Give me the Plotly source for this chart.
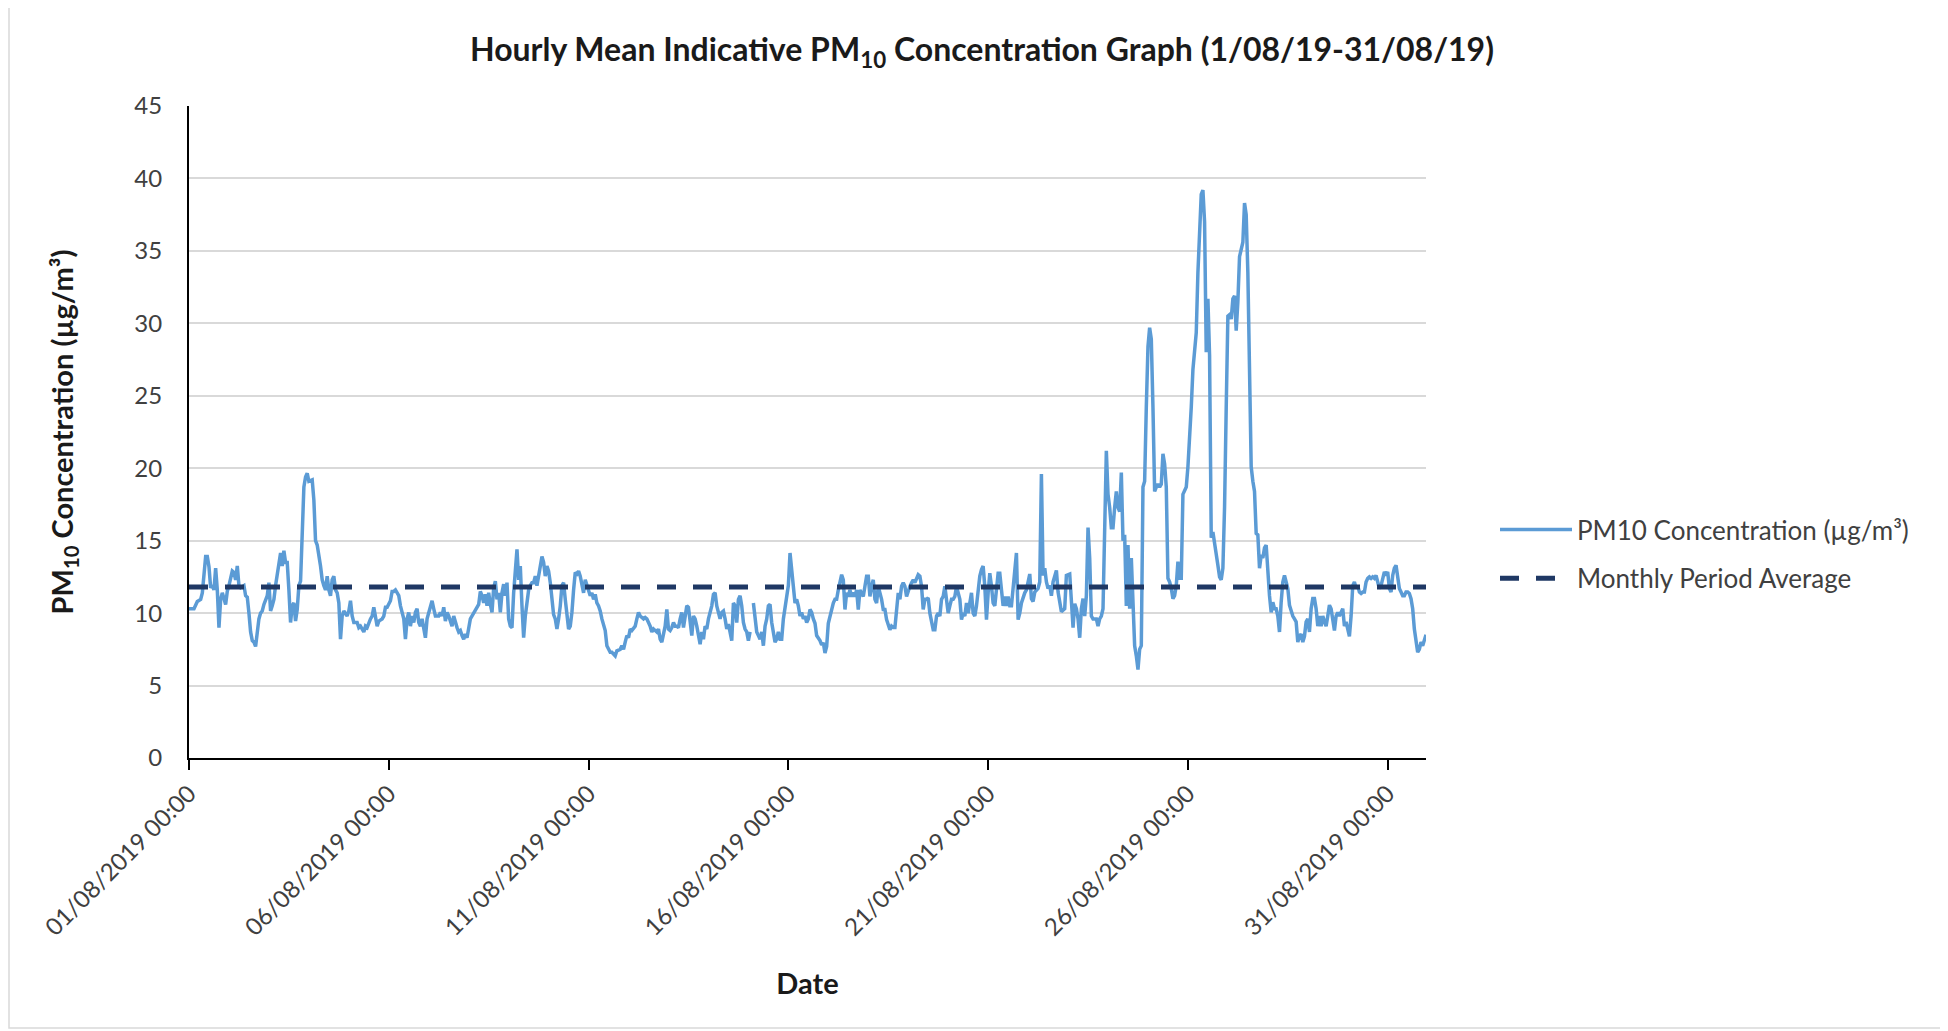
import pandas as pd
import plotly.graph_objects as go

# ---------------- data ----------------
START = "2019-08-01 00:00"
END = "2019-08-31 23:00"

hours = [
    0, 3, 5, 7, 8, 9, 10, 11, 12, 13, 14, 15, 16, 17, 18, 19, 20, 22, 23, 24,
    26, 27, 28, 29, 30, 31, 33, 34, 35, 36, 37, 38, 39, 40, 41, 42, 43, 44, 45, 46,
    47, 48, 49, 50, 51, 52, 53, 54, 55, 56, 57, 58, 59, 60, 61, 62, 63, 64, 65, 66,
    67, 69, 70, 71, 72, 74, 75, 76, 77, 79, 80, 81, 82, 83, 84, 85, 86, 87, 88, 89,
    90, 91, 92, 93, 95, 96, 97, 98, 99, 101, 102, 103, 105, 106, 107, 109, 110, 111, 112, 113,
    114, 116, 117, 118, 119, 121, 122, 123, 124, 126, 127, 129, 130, 131, 132, 133, 134, 135, 136, 137,
    138, 139, 140, 141, 142, 143, 144, 145, 146, 147, 148, 150, 151, 152, 153, 154, 155, 156, 157, 158,
    159, 160, 161, 162, 163, 164, 165, 166, 167, 169, 170, 171, 173, 174, 175, 176, 177, 178, 179, 180,
    181, 182, 183, 184, 185, 186, 187, 188, 189, 190, 191, 192, 193, 194, 195, 196, 197, 198, 199, 200,
    201, 202, 203, 204, 205, 206, 207, 208, 209, 210, 211, 212, 213, 214, 215, 216, 217, 218, 219, 220,
    221, 222, 223, 224, 225, 226, 227, 228, 229, 230, 231, 232, 233, 234, 235, 236, 237, 238, 239, 240,
    241, 242, 243, 244, 245, 246, 247, 248, 249, 250, 251, 252, 253, 254, 256, 257, 259, 260, 261, 262,
    263, 264, 265, 266, 267, 268, 269, 270, 271, 272, 273, 274, 275, 276, 277, 278, 279, 280, 281, 282,
    283, 284, 285, 286, 287, 288, 289, 290, 291, 292, 293, 294, 295, 296, 297, 298, 299, 300, 301, 302,
    303, 304, 305, 306, 307, 308, 309, 310, 311, 312, 313, 314, 315, 316, 317, 318, 319, 320, 321, 322,
    323, 324, 325, 326, 327, 328, 329, 330, 331, 332, 333, 334, 335, 336, 337, 338, 339, 340, 341, 342,
    343, 344, 345, 346, 347, 348, 349, 350, 351, 352, 353, 354, 355, 356, 357, 358, 359, 360, 361, 362,
    363, 364, 365, 366, 367, 368, 369, 370, 371, 372, 373, 374, 375, 376, 377, 378, 379, 380, 381, 382,
    383, 384, 385, 386, 387, 388, 389, 390, 391, 392, 393, 394, 395, 396, 397, 398, 399, 400, 401, 402,
    403, 404, 405, 406, 407, 408, 409, 410, 411, 412, 413, 414, 415, 416, 417, 418, 419, 420, 421, 422,
    423, 424, 425, 426, 427, 428, 429, 430, 431, 432, 433, 434, 435, 436, 437, 438, 439, 440, 441, 442,
    443, 444, 445, 446, 447, 448, 449, 450, 451, 452, 453, 454, 455, 456, 457, 458, 459, 460, 461, 462,
    463, 464, 465, 466, 467, 468, 469, 470, 471, 472, 473, 474, 475, 476, 477, 478, 479, 480, 481, 482,
    483, 484, 485, 486, 487, 488, 489, 490, 491, 492, 493, 494, 495, 496, 497, 498, 499, 500, 501, 502,
    503, 504, 505, 506, 507, 508, 510, 511, 512, 513, 514, 515, 516, 517, 518, 519, 520, 521, 522, 523,
    524, 526, 527, 529, 530, 531, 532, 533, 534, 535, 536, 537, 538, 539, 540, 541, 542, 543, 545, 546,
    547, 548, 549, 550, 551, 552, 553, 554, 555, 556, 557, 558, 559, 560, 561, 562, 563, 564, 565, 566,
    567, 568, 569, 570, 571, 572, 573, 574, 575, 576, 577, 578, 579, 580, 581, 582, 583, 584, 585, 586,
    587, 588, 589, 590, 591, 592, 593, 594, 595, 596, 597, 598, 599, 600, 601, 602, 603, 604, 605, 606,
    607, 608, 609, 610, 611, 612, 613, 614, 615, 616, 617, 618, 619, 620, 621, 622, 623, 624, 625, 626,
    627, 628, 629, 630, 631, 632, 633, 634, 635, 636, 637, 638, 639, 640, 641, 642, 643, 644, 645, 646,
    647, 648, 649, 650, 651, 652, 653, 654, 655, 656, 657, 658, 659, 660, 661, 662, 663, 664, 665, 666,
    667, 668, 669, 670, 671, 672, 673, 674, 675, 676, 677, 678, 679, 680, 681, 682, 683, 684, 685, 686,
    687, 688, 689, 690, 691, 692, 693, 694, 695, 696, 697, 698, 699, 700, 701, 702, 703, 704, 705, 706,
    707, 708, 709, 710, 711, 712, 713, 714, 715, 716, 717, 718, 719, 720, 721, 722, 723, 724, 725, 726,
    727, 728, 729, 730, 731, 732, 733, 734, 735, 736, 737, 738, 739, 740, 741, 742, 743,
]

pm10 = [
    10.3, 10.3, 10.8, 10.95, 11.4, 12.8, 13.9, 13.9, 13.2, 11.75, 11.9, 11.6, 13.1, 11.6, 9.0, 10.95, 11.4, 10.6, 11.5, 11.9,
    12.9, 12.8, 12.3, 13.25, 11.9, 11.75, 11.9, 11.2, 11.1, 10.0, 8.7, 8.1, 8.0, 7.7, 8.7, 9.6, 10.0, 10.15, 10.6, 10.95,
    11.2, 12.1, 10.15, 10.5, 10.95, 11.9, 12.8, 13.25, 14.15, 13.25, 14.3, 13.5, 13.5, 11.6, 9.35, 10.5, 10.7, 9.45, 10.25, 11.9,
    12.2, 18.7, 19.4, 19.65, 19.1, 19.2, 17.8, 15.0, 14.7, 13.25, 12.3, 11.9, 11.6, 12.55, 11.6, 11.2, 12.3, 12.55, 11.6, 11.4,
    10.7, 8.2, 9.8, 10.15, 9.8, 10.15, 10.85, 9.8, 9.35, 9.35, 9.0, 9.1, 8.7, 9.1, 9.0, 9.6, 9.8, 10.4, 9.6, 9.1,
    9.45, 9.6, 9.8, 10.4, 10.4, 10.85, 11.5, 11.5, 11.6, 11.2, 10.5, 9.6, 8.2, 9.6, 10.05, 9.1, 9.8, 9.35, 10.05, 10.3,
    9.35, 9.1, 9.6, 8.8, 8.3, 9.6, 10.05, 10.4, 10.85, 10.3, 9.8, 9.8, 10.05, 9.8, 10.4, 9.45, 10.05, 9.8, 9.35, 9.1,
    9.8, 9.35, 9.0, 8.7, 8.8, 8.45, 8.2, 8.55, 8.3, 9.6, 9.8, 9.9, 10.4, 10.6, 11.5, 11.2, 10.7, 11.3, 10.5, 11.4,
    10.6, 10.05, 11.75, 12.2, 10.95, 11.4, 10.05, 11.4, 12.0, 11.2, 12.1, 9.6, 9.1, 9.0, 11.4, 13.25, 14.4, 12.3, 13.25, 10.5,
    8.3, 9.8, 10.95, 11.6, 11.9, 12.1, 12.1, 12.55, 11.9, 12.55, 13.25, 13.9, 13.5, 12.55, 13.25, 12.9, 12.1, 10.7, 9.9, 9.6,
    8.9, 9.6, 10.5, 11.9, 12.1, 10.95, 9.8, 8.9, 9.1, 10.05, 11.6, 12.8, 12.7, 12.9, 12.55, 11.9, 11.4, 12.3, 11.9, 11.4,
    11.2, 11.4, 10.95, 11.3, 10.7, 10.5, 10.15, 9.6, 9.1, 8.8, 7.75, 7.5, 7.3, 7.3, 7.05, 7.4, 7.5, 7.75, 7.5, 8.0,
    8.45, 8.3, 8.9, 8.8, 9.0, 9.1, 9.6, 10.05, 9.8, 9.7, 9.6, 9.7, 9.6, 9.35, 9.1, 8.7, 8.9, 8.8, 8.7, 8.9,
    8.2, 8.0, 8.7, 9.1, 10.25, 8.9, 8.8, 9.0, 9.35, 9.1, 9.1, 9.0, 9.6, 10.05, 9.0, 9.9, 10.5, 10.4, 9.6, 8.45,
    9.8, 9.6, 9.1, 8.45, 7.85, 8.7, 8.2, 9.1, 8.9, 9.6, 10.05, 10.5, 11.3, 11.4, 10.5, 10.05, 9.6, 10.05, 10.15, 9.6,
    8.9, 9.25, 8.7, 8.1, 10.7, 10.5, 9.35, 10.95, 11.2, 10.5, 9.35, 8.9, 8.7, 8.1, 8.7, None, 10.7, 9.8, 8.7, 8.45,
    8.2, 8.7, 7.75, 9.1, 9.6, 10.5, 10.6, 9.35, 8.45, 8.0, 8.2, 8.7, 8.2, 8.2, 9.6, 10.5, 10.95, 11.9, 14.15, 12.8,
    11.4, 10.7, 10.95, 10.5, 9.8, 10.05, 9.6, 9.8, 9.35, 9.6, 10.25, 10.05, 9.6, 9.3, 8.45, 8.3, 8.1, 7.8, 7.95, 7.25,
    7.7, 9.3, 9.8, 10.25, 10.7, 10.95, 10.95, 11.6, 12.1, 12.65, 12.3, 10.25, 11.4, 11.15, 11.6, 11.15, 11.4, 11.15, 11.6, 10.25,
    11.6, 11.4, 11.15, 11.85, 12.55, 12.55, 11.15, 11.85, 12.3, 10.95, 10.7, 11.85, 11.4, 10.95, 10.25, 10.25, 9.55, 9.1, 8.85, 9.1,
    9.0, 9.0, 10.5, 11.4, 10.95, 11.85, 12.1, 11.85, 11.15, 11.6, 11.85, 12.1, 12.3, 12.1, 12.4, 12.65, 12.55, 11.85, 10.25, 10.95,
    10.95, 11.05, 10.0, 9.3, 8.85, 8.85, 9.8, 10.0, 9.8, 10.95, 11.15, 11.85, 10.95, 10.0, 10.5, 10.95, 10.95, 11.15, 11.85, 11.3,
    10.95, 9.55, 10.0, 9.8, 10.7, 10.0, 10.95, 11.4, 10.0, 9.8, 10.5, 11.85, 12.55, 13.0, 13.25, 11.85, 9.55, 11.4, 12.75, 11.85,
    10.7, 10.5, 11.85, 12.75, 12.75, 11.4, 10.5, 11.15, 10.5, 11.15, 10.5, 10.5, 11.85, 13.25, 14.15, 9.55, 10.0, 10.7, 11.15, 11.4,
    11.6, 12.3, 12.7, 11.0, 10.8, 11.45, 11.7, 12.15, 19.6, 12.6, 13.1, 12.15, 11.7, 11.9, 11.2, 12.15, 12.6, 12.95, 11.45, 10.8,
    10.1, 10.3, 12.6, 12.7, 10.8, 9.0, 10.65, 10.3, 9.6, 8.3, 10.3, 11.0, 9.8, 11.2, 15.9, 13.8, 9.8, 9.6, 9.6, 9.1,
    9.6, 9.8, 10.3, 17.7, 21.2, 18.2, 17.3, 15.9, 15.9, 17.3, 18.4, 17.3, 17.0, 19.7, 15.0, 15.4, 10.5, 14.7, 10.3, 13.8,
    10.3, 7.75, 7.05, 6.1, 7.5, 7.75, 18.7, 19.1, 24.2, 28.4, 29.7, 28.9, 24.2, 18.4, 18.7, 18.9, 18.7, 18.9, 21.0, 20.3,
    18.7, 12.4, 12.15, 11.7, 11.0, 11.2, 11.9, 13.55, 12.4, 12.4, 18.2, 18.4, 18.7, 20.1, 21.9, 24.2, 26.8, 28.2, 29.35, 33.5,
    37.0, 38.9, 39.2, 37.0, 28.0, 31.7, 27.8, 15.2, 15.6, 14.95, 14.0, 13.3, 12.5, 12.3, 13.1, 17.3, 24.2, 30.5, 30.6, 30.3,
    31.7, 31.9, 29.5, 31.5, 34.6, 35.1, 35.6, 38.3, 37.5, 33.5, 27.3, 20.1, 19.1, 18.4, 15.5, 15.4, 13.1, 14.0, 13.8, 14.5,
    14.7, 12.6, 11.2, 10.05, 10.75, 10.3, 10.3, 9.8, 8.7, 10.75, 12.15, 12.6, 12.15, 11.7, 10.55, 10.05, 9.8, 9.6, 9.4, 8.0,
    8.4, 8.55, 8.0, 8.4, 9.4, 9.6, 8.7, 10.3, 11.0, 11.0, 10.3, 9.1, 9.8, 9.1, 9.8, 9.4, 9.1, 9.8, 10.55, 10.3,
    9.4, 8.8, 9.8, 10.05, 9.8, 10.05, 10.3, 9.1, 9.4, 8.9, 8.4, 9.8, 11.9, 12.15, 11.7, 11.9, 11.45, 11.35, 11.45, 11.45,
    12.15, 12.4, 12.5, 12.4, 12.5, 12.4, 12.6, 12.15, 11.7, 11.9, 12.4, 12.85, 12.6, 12.85, 11.7, 11.45, 12.6, 13.1, 13.3, 12.6,
    11.7, 11.45, 11.2, 11.2, 11.45, 11.45, 11.35, 11.0, 10.3, 8.9, 8.0, 7.3, 7.5, 8.0, 7.75, 8.2, 8.5,
]

monthly_average = 11.8

series_names = ["PM10 Concentration (µg/m³)", "Monthly Period Average"]
chart_title = "<b>Hourly Mean Indicative PM<sub>10</sub> Concentration Graph (1/08/19-31/08/19)</b>"
x_title = "<b>Date</b>"
y_title = "<b>PM<sub>10</sub> Concentration (µg/m³)</b>"

# ---------------- figure ----------------
times = pd.Timestamp(START) + pd.to_timedelta(hours, unit="h")

FONT = "Lato, 'Open Sans', sans-serif"
W, H = 1948, 1031
L, R, T, B = 181, 530, 98, 281
PW, PH = W - L - R, H - T - B


def px_x(x):
    return (x - L) / PW


def px_y(y):
    return (H - B - y) / PH


fig = go.Figure()
fig.add_trace(go.Scatter(
    x=times, y=pm10, mode="lines", name=series_names[0],
    line=dict(color="#5B9BD5", width=3.5), connectgaps=False,
    legendgroup="a",
))
fig.add_trace(go.Scatter(
    x=[pd.Timestamp(START), pd.Timestamp(END)],
    y=[monthly_average, monthly_average],
    mode="lines", name=series_names[1],
    line=dict(color="#1F3864", width=5, dash="19px,17px"),
    legendgroup="b",
))

fig.update_layout(
    width=W, height=H,
    margin=dict(l=L, r=R, t=T, b=B),
    paper_bgcolor="white", plot_bgcolor="white",
    font=dict(family=FONT, size=24, color="#404040"),
    title=dict(text=chart_title, x=0.5, xref="container", xanchor="center",
               y=1 - 42 / H, yref="container", yanchor="middle",
               font=dict(family=FONT, size=32, color="#1a1a1a")),
    showlegend=True,
    legend=dict(x=px_x(1487), xanchor="left", y=px_y(546), yanchor="middle",
                traceorder="grouped", tracegroupgap=12, itemwidth=72,
                font=dict(family=FONT, size=26, color="#404040"),
                bgcolor="rgba(0,0,0,0)"),
    shapes=[dict(type="rect", xref="paper", yref="paper",
                 x0=px_x(1), x1=px_x(1937),
                 y0=px_y(1020), y1=px_y(-7),
                 line=dict(color="#D9D9D9", width=1.5), layer="below")],
)

fig.update_xaxes(
    type="date", range=[START, END],
    tick0=START, dtick=5 * 86400000, tickformat="%d/%m/%Y %H:%M",
    tickangle=-45, ticks="outside", ticklen=10, tickwidth=2, tickcolor="black",
    showline=True, linecolor="black", linewidth=2,
    showgrid=False, zeroline=False,
    tickfont=dict(family=FONT, size=24, color="#404040"),
    title=dict(text=x_title, standoff=34, font=dict(family=FONT, size=29, color="#1a1a1a")),
)
fig.update_yaxes(
    range=[0, 45], dtick=5, tick0=0,
    showline=True, linecolor="black", linewidth=2,
    showgrid=True, gridcolor="#D9D9D9", gridwidth=1.5,
    zeroline=False, ticks="", ticklabelstandoff=20,
    tickfont=dict(family=FONT, size=24, color="#404040"),
    title=dict(text=y_title, standoff=52, font=dict(family=FONT, size=29, color="#1a1a1a")),
)

fig.write_html("out.html")
